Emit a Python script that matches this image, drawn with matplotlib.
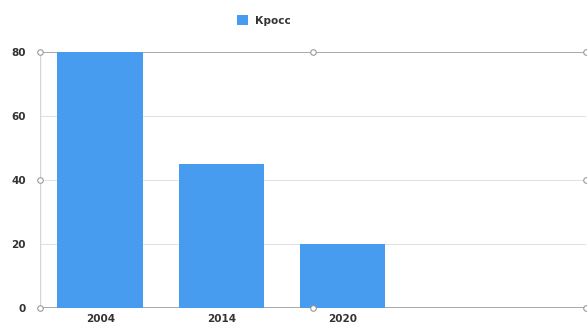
import matplotlib.pyplot as plt

years = ["2004", "2014", "2020"]
kross = [80, 45, 20]
yticks = [0, 20, 40, 60, 80]
series_name = "Кросс"

bar_color = "#479cf0"

fig = plt.figure(figsize=(5.87, 3.24), dpi=100)
ax = fig.add_axes([0.068, 0.049, 0.930, 0.791])

x = list(range(len(years)))
ax.bar(x, kross, width=0.71, color=bar_color, label=series_name, zorder=3)

ax.set_xlim(-0.5, 4.01)
ax.set_ylim(0, 80)
ax.set_xticks(x)
ax.set_xticklabels(years)
ax.set_yticks(yticks)

# grid lines
for v in yticks:
    lw = 1.2 if v in (0, 80) else 0.6
    col = "#9a9a9a" if v in (0, 80) else "#dcdcdc"
    ax.axhline(v, color=col, linewidth=lw, zorder=1)

for s in ax.spines.values():
    s.set_visible(False)
ax.axvline(-0.5, color="#d6d6d6", linewidth=1.0, zorder=1)
ax.axvline(4.01, color="#e6e6e6", linewidth=0.8, zorder=1)

ax.tick_params(axis="both", length=0, labelsize=7.5, labelcolor="#333333")
ax.tick_params(axis="y", pad=10)
ax.tick_params(axis="x", pad=4)
for lab in ax.get_xticklabels() + ax.get_yticklabels():
    lab.set_fontweight("bold")

# selection handles of the frame
hx = [0, 0.5, 1, 0, 1, 0, 0.5, 1]
hy = [1, 1, 1, 0.5, 0.5, 0, 0, 0]
ax.plot(hx, hy, linestyle="none", marker="o", markersize=4,
        markerfacecolor="white", markeredgecolor="#999999",
        markeredgewidth=0.8, transform=ax.transAxes, clip_on=False, zorder=5)

leg = fig.legend(loc="center", bbox_to_anchor=(0.45, 0.937), frameon=False,
                 handlelength=1.0, handleheight=1.0, handletextpad=0.7,
                 prop={"weight": "bold", "size": 7.5})
for t in leg.get_texts():
    t.set_color("#333333")

fig.savefig("out.png", dpi=100, facecolor="white")
